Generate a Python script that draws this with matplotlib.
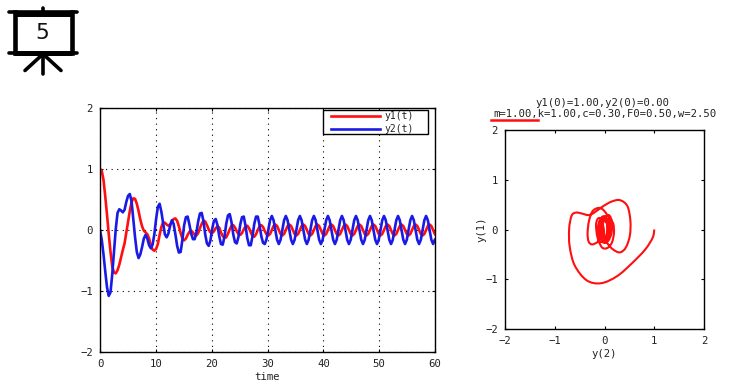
"""Damped forced oscillator: time response and phase plane."""

import matplotlib

matplotlib.use("Agg")
import matplotlib.pyplot as plt
import numpy as np
from matplotlib.patches import PathPatch, Rectangle
from matplotlib.path import Path

SAMPLE_STEP = 0.314

y1_values = [
    1.00, .97, .82, .55, .25, -.07, -.36, -.60, -.70, -.71, -.66, -.57, -.45, -.33, -.22, -.04,
    .14, .31, .46, .52, .51, .43, .31, .17, .06, -.01, -.04, -.07, -.14, -.25, -.32, -.34,
    -.31, -.23, -.08, .05, .12, .12, .09, .07, .09, .14, .18, .19, .15, .06, -.05, -.14,
    -.17, -.14, -.08, -.03, -.01, -.04, -.08, -.09, -.05, .03, .10, .15, .14, .08, .01, -.04,
    -.05, -.02, .03, .06, .04, -.04, -.10, -.13, -.12, -.06, .01, .07, .08, .04, -.02, -.07,
    -.08, -.05, .01, .06, .07, .03, -.04, -.10, -.11, -.07, 0, .06, .08, .05, -.02, -.07,
    -.09, -.065, 0, .065, .09, .065, 0, -.065, -.09, -.065, 0, .065, .09, .065, 0, -.065,
    -.09, -.065, 0, .065, .09, .065, 0, -.065, -.09, -.065, 0, .065, .09, .065, 0, -.065,
    -.09, -.065, 0, .065, .09, .065, 0, -.065, -.09, -.065, 0, .065, .09, .065, 0, -.065,
    -.09, -.065, 0, .065, .09, .065, 0, -.065, -.09, -.065, 0, .065, .09, .065, 0, -.065,
    -.09, -.065, 0, .065, .09, .065, 0, -.065, -.09, -.065, 0, .065, .09, .065, 0, -.065,
    -.09, -.065, 0, .065, .09, .065, 0, -.065, -.09, -.065, 0, .065, .09, .065, 0, -.065,
]
y2_values = [
    0, -.16, -.40, -.68, -.94, -1.08, -1.02, -.72, -.34, .02, .28, .34, .32, .29, .33, .46,
    .56, .59, .47, .18, -.12, -.36, -.46, -.40, -.28, -.14, -.08, -.14, -.25, -.30, -.24, -.07,
    .18, .38, .43, .30, .11, -.07, -.12, -.06, .07, .16, .10, -.07, -.26, -.37, -.36, -.16,
    .08, .21, .22, .09, -.06, -.15, -.15, -.04, .14, .27, .28, .15, -.07, -.22, -.26, -.17,
    .02, .15, .18, .08, -.10, -.23, -.24, -.11, .10, .24, .26, .13, -.07, -.20, -.22, -.11,
    .09, .21, .22, .07, -.13, -.25, -.25, -.10, .10, .22, .22, .08, -.10, -.21, -.23, -.15,
    0, .16, .23, .16, 0, -.16, -.23, -.16, 0, .16, .23, .16, 0, -.16, -.23, -.16,
    0, .16, .23, .16, 0, -.16, -.23, -.16, 0, .16, .23, .16, 0, -.16, -.23, -.16,
    0, .16, .23, .16, 0, -.16, -.23, -.16, 0, .16, .23, .16, 0, -.16, -.23, -.16,
    0, .16, .23, .16, 0, -.16, -.23, -.16, 0, .16, .23, .16, 0, -.16, -.23, -.16,
    0, .16, .23, .16, 0, -.16, -.23, -.16, 0, .16, .23, .16, 0, -.16, -.23, -.16,
    0, .16, .23, .16, 0, -.16, -.23, -.16, 0, .16, .23, .16, 0, -.16, -.23, -.16,
]
time_ticks = [0, 10, 20, 30, 40, 50, 60]
value_ticks = [-2, -1, 0, 1, 2]

RED = "#ff0f0f"
BLUE = "#1a1ae6"
TEXT = "#222222"

plt.rcParams["font.family"] = "DejaVu Sans Mono"
plt.rcParams["font.size"] = 7.7


def style_axes(ax, xticks) -> None:
    ax.set_xticks(xticks)
    ax.set_yticks(value_ticks)
    ax.tick_params(direction="in", length=2.5, width=0.8, top=True, right=True, colors="black", labelcolor=TEXT, pad=5)
    for spine in ax.spines.values():
        spine.set_linewidth(1.0)


def smooth_path(x, y) -> Path:
    """Bezier path through the read points, so the phase loop stays round."""

    points = np.column_stack([x, y])
    padded = np.vstack([points[0], points, points[-1]])
    slopes = (padded[2:] - padded[:-2]) / 6
    verts = [points[0]]
    for i in range(len(points) - 1):
        verts += [points[i] + slopes[i], points[i + 1] - slopes[i + 1], points[i + 1]]
    codes = [Path.MOVETO] + [Path.CURVE4] * (len(verts) - 1)
    return Path(verts, codes)


def draw_icon(overlay) -> None:
    overlay.plot([9, 77], [12, 12], color="black", lw=2.6, solid_capstyle="round")
    overlay.plot([14, 72], [13.5, 13.5], color="black", lw=4.3, solid_capstyle="butt")
    overlay.plot([9, 77], [53, 53], color="black", lw=2.6, solid_capstyle="round")
    overlay.plot([14, 72], [52.5, 52.5], color="black", lw=3.6, solid_capstyle="butt")
    overlay.plot([15, 15], [12, 53], color="black", lw=3.3)
    overlay.plot([71.5, 71.5], [12, 53], color="black", lw=3.3)
    overlay.plot([43, 43], [8, 12], color="black", lw=2.6, solid_capstyle="round")
    for foot_x, foot_y in [(25, 70.5), (43, 73.5), (61, 70.5)]:
        overlay.plot([43, foot_x], [54, foot_y], color="black", lw=2.6, solid_capstyle="round")
    overlay.text(42, 33, "5", ha="center", va="center", fontsize=15.5, family="DejaVu Sans", color="#111111")


def main() -> None:
    y1 = np.array(y1_values)
    y2 = np.array(y2_values)
    time = np.arange(len(y1)) * SAMPLE_STEP

    fig = plt.figure(figsize=(7.44, 3.84), dpi=100)

    ax = fig.add_axes([100 / 744, 32 / 384, 335 / 744, 244 / 384])
    ax.plot(time, y1, color=RED, lw=1.9, label="y1(t)")
    ax.plot(time, y2, color=BLUE, lw=1.9, label="y2(t)")
    ax.set_xlim(0, 60)
    ax.set_ylim(-2, 2)
    style_axes(ax, time_ticks)
    ax.grid(True, color="black", linestyle=(0, (1, 4)), linewidth=0.8)
    ax.set_xlabel("time", color=TEXT, labelpad=2.5)

    # legend box is wider than its entries, so the frame is drawn separately
    ax.add_patch(
        Rectangle(
            (223 / 335, 218 / 244),
            105 / 335,
            24 / 244,
            transform=ax.transAxes,
            facecolor="white",
            edgecolor="black",
            linewidth=1.0,
            zorder=4,
        )
    )
    legend = ax.legend(
        loc="upper left",
        bbox_to_anchor=(0.69, 0.986),
        borderaxespad=0,
        frameon=False,
        fontsize=7,
        handlelength=5.05,
        labelspacing=0.3,
        borderpad=0,
        handletextpad=0.4,
    )
    legend.set_zorder(5)
    for label in legend.get_texts():
        label.set_color(TEXT)

    phase = fig.add_axes([505 / 744, 55 / 384, 199 / 744, 199 / 384])
    phase.add_patch(PathPatch(smooth_path(y1, y2), facecolor="none", edgecolor=RED, lw=1.5))
    phase.set_xlim(-2, 2)
    phase.set_ylim(-2, 2)
    style_axes(phase, value_ticks)
    phase.set_xlabel("y(2)", color=TEXT, labelpad=2.5)
    phase.set_ylabel("y(1)", color=TEXT, labelpad=-1)

    # pixel-coordinate layer for the icon and the two-line caption
    overlay = fig.add_axes([0, 0, 1, 1], zorder=-1)
    overlay.set_xlim(0, 744)
    overlay.set_ylim(384, 0)
    overlay.axis("off")
    draw_icon(overlay)
    overlay.text(602.5, 102.5, "y1(0)=1.00,y2(0)=0.00", ha="center", va="center", color=TEXT)
    overlay.text(604.5, 114, "m=1.00,k=1.00,c=0.30,F0=0.50,w=2.50", ha="center", va="center", color=TEXT)
    overlay.plot([491, 538], [120, 120], color=RED, lw=1.8)

    fig.savefig("out.png", dpi=100)
    plt.close(fig)


if __name__ == "__main__":
    main()
